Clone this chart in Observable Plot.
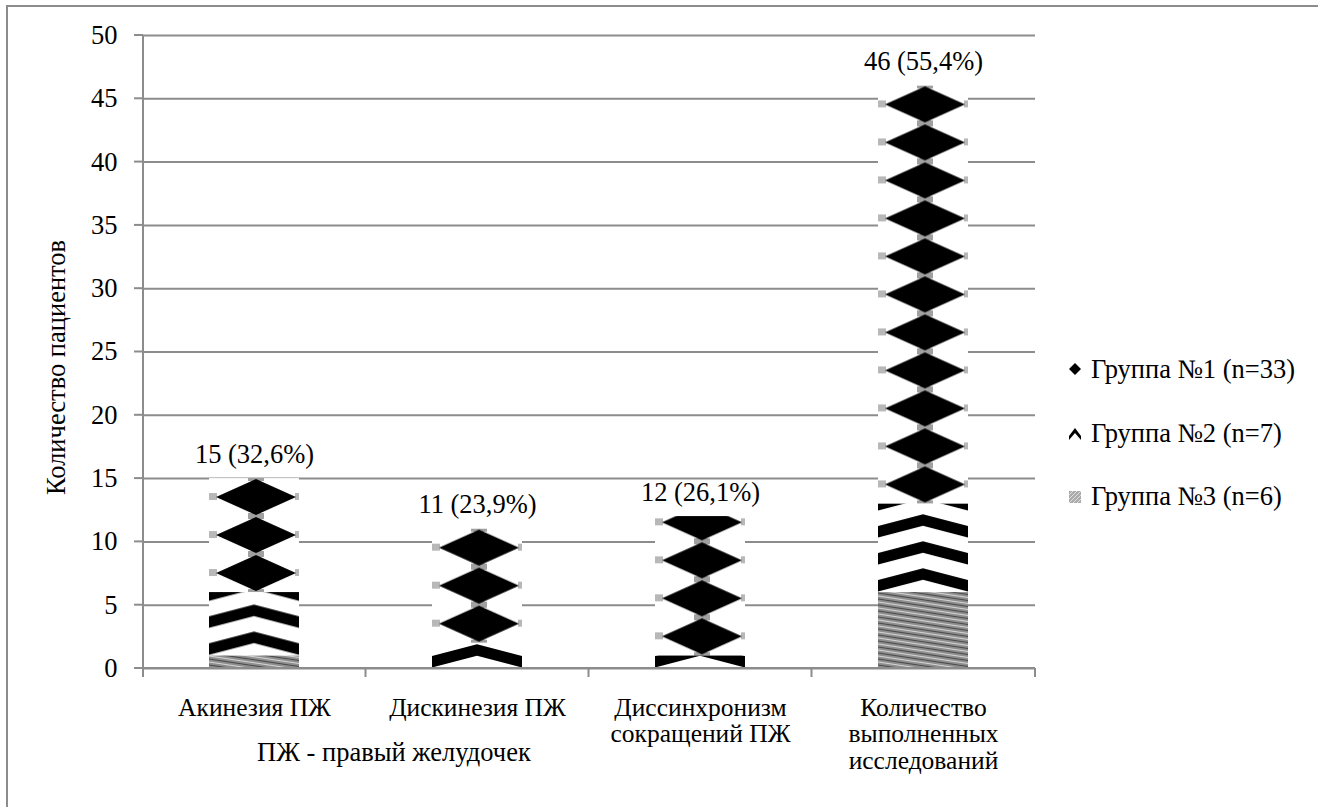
<!DOCTYPE html>
<html>
<head>
<meta charset="utf-8">
<script src="https://cdn.jsdelivr.net/npm/d3@7"></script>
<script src="https://cdn.jsdelivr.net/npm/@observablehq/plot@0.6"></script>
<style>
  html, body { margin: 0; padding: 0; background: #fff; }
  #chart { position: relative; width: 1318px; height: 807px; overflow: hidden; }
  #border { position: absolute; left: 6px; top: 5px; width: 1400px; height: 900px;
            border-left: 2px solid #8c8c8c; border-top: 2px solid #8c8c8c; }
  #chart svg { position: absolute; left: 0; top: 0; }
</style>
</head>
<body>
<div id="chart"><div id="border"></div></div>
<script>
// Categories (x axis) and their multi-line tick labels
const categories = [
  "Акинезия ПЖ",
  "Дискинезия ПЖ",
  "Диссинхронизм сокращений ПЖ",
  "Количество выполненных исследований"
];
const categoryLines = [
  ["Акинезия ПЖ"],
  ["Дискинезия ПЖ"],
  ["Диссинхронизм", "сокращений ПЖ"],
  ["Количество", "выполненных", "исследований"]
];

// Series
const groups = ["Группа №1 (n=33)", "Группа №2 (n=7)", "Группа №3 (n=6)"];
const group1 = [9, 9, 11, 33];
const group2 = [5, 2, 1, 7];
const group3 = [1, 0, 0, 6];

// Totals and their labels above each bar
const totals = [15, 11, 12, 46];
const totalLabels = ["15 (32,6%)", "11 (23,9%)", "12 (26,1%)", "46 (55,4%)"];

// Y axis ticks and texts
const yTicks = [0, 5, 10, 15, 20, 25, 30, 35, 40, 45, 50];
const yTitle = "Количество пациентов";
const xNote = "ПЖ - правый желудочек";

const GRID = "#8c8c8c";
const FONT = "Liberation Serif";
const FS = 26.5;
const FS_X = 25.5;

// Long table: bottom-to-top stacking order is group 3, group 2, group 1
const rows = [];
categories.forEach((c, i) => {
  rows.push({category: c, group: groups[2], value: group3[i]});
  rows.push({category: c, group: groups[1], value: group2[i]});
  rows.push({category: c, group: groups[0], value: group1[i]});
});
const totalRows = categories.map((c, i) => ({category: c, total: totals[i], label: totalLabels[i]}));
const lineOf = new Map(categories.map((c, i) => [c, categoryLines[i].join("\n")]));

// Axis lines, boundary ticks, axis title, note and legend
function decorations(index, scales, values, dims) {
  const {width, height, marginLeft, marginRight, marginTop, marginBottom} = dims;
  const x = scales.x, y = scales.y;
  const x0 = marginLeft, x1 = width - marginRight, yb = height - marginBottom;
  const g = d3.create("svg:g").attr("text-anchor", "start");
  const lines = g.append("g").attr("stroke", GRID).attr("stroke-width", 2);
  // y axis line and ticks
  lines.append("line").attr("x1", x0).attr("x2", x0).attr("y1", y(50)).attr("y2", yb + 9);
  for (const t of yTicks) {
    lines.append("line").attr("x1", x0 - 9).attr("x2", x0).attr("y1", y(t)).attr("y2", y(t));
  }
  // x axis line and category boundary ticks
  lines.append("line").attr("x1", x0).attr("x2", x1).attr("y1", yb).attr("y2", yb);
  const bw = typeof x.bandwidth === "function" ? x.bandwidth() : x.bandwidth;
  const centers = categories.map(c => x(c) + bw / 2);
  const bounds = [x0];
  for (let i = 1; i < centers.length; i++) bounds.push((centers[i - 1] + centers[i]) / 2);
  bounds.push(x1);
  for (const b of bounds) {
    lines.append("line").attr("x1", b).attr("x2", b).attr("y1", yb).attr("y2", yb + 9);
  }
  // y axis title
  g.append("text")
    .attr("transform", `translate(65,${(y(50) + yb) / 2 + 16}) rotate(-90)`)
    .attr("text-anchor", "middle").attr("font-size", FS).attr("fill", "#000")
    .text(yTitle);
  // note under the first two categories
  g.append("text").attr("x", 257).attr("y", 761).attr("text-anchor", "start")
    .attr("font-size", FS).attr("fill", "#000").text(xNote);
  // legend
  const lg = g.append("g").attr("transform", `translate(${x1 + 40},0)`);
  const baselines = [378, 442, 505];
  groups.forEach((name, i) => {
    const row = lg.append("g").attr("transform", `translate(0,${baselines[i]})`);
    if (i === 0) {
      row.append("path").attr("d", "M0,-15 L6,-9 L0,-3 L-6,-9 Z").attr("fill", "#000");
    } else if (i === 1) {
      row.append("path").attr("d", "M-6,-6 L0,-14 L6,-6 L6,-2 L0,-9 L-6,-2 Z").attr("fill", "#000");
    } else {
      row.append("rect").attr("x", -6).attr("y", -14).attr("width", 12).attr("height", 12).attr("fill", "url(#legend3)");
    }
    row.append("text").attr("x", 16).attr("y", 0).attr("text-anchor", "start")
      .attr("font-size", FS).attr("fill", "#000").text(name);
  });
  return g.node();
}

const svg = Plot.plot({
  width: 1318,
  height: 807,
  marginLeft: 143,
  marginRight: 283,
  marginTop: 35,
  marginBottom: 139,
  style: {fontFamily: FONT, fontSize: `${FS}px`, color: "#000", background: "transparent", overflow: "visible"},
  x: {domain: categories, paddingInner: 0.596, paddingOuter: 0.298, label: null},
  y: {domain: [0, 50], label: null},
  color: {type: "ordinal", domain: groups, range: ["url(#g1)", "url(#g2)", "url(#g3)"]},
  marks: [
    Plot.gridY(yTicks, {stroke: GRID, strokeOpacity: 1, strokeWidth: 2}),
    Plot.barY(rows.filter(d => d.value > 0), Plot.stackY({
      x: "category", y: "value", fill: "group", z: "group",
      order: [groups[2], groups[1], groups[0]]
    })),
    Plot.axisY({ticks: yTicks, tickSize: 0, tickPadding: 26, fontSize: FS, label: null, fill: "#000"}),
    Plot.axisX({tickSize: 0, tickPadding: 28, fontSize: FS_X, label: null, fill: "#000",
                lineHeight: 1.05, tickFormat: d => lineOf.get(d)}),
    Plot.text(totalRows, {x: "category", y: "total", text: "label", fontSize: FS, fill: "#000",
                          lineAnchor: "bottom", dy: -16}),
    decorations
  ]
});
svg.setAttribute("font-family", FONT);
svg.querySelectorAll("text").forEach(t => { t.style.fontFamily = FONT; });
document.getElementById("chart").appendChild(svg);

// Fill patterns: one pattern per rect so each tile grid starts at the bar segment's bottom edge
const defs = d3.select(svg).insert("defs", ":first-child");

function diamondTile(p, w) {
  const h = 38, k = w / 90;
  p.attr("width", w).attr("height", h);
  p.append("rect").attr("width", w).attr("height", h).attr("fill", "#fff");
  p.append("rect").attr("x", 0).attr("y", 15).attr("width", 8 * k).attr("height", 7).attr("fill", "#b8b8b8");
  p.append("rect").attr("x", 86 * k).attr("y", 15).attr("width", 4 * k).attr("height", 7).attr("fill", "#b8b8b8");
  p.append("rect").attr("x", 39 * k).attr("y", 0).attr("width", 16 * k).attr("height", 3).attr("fill", "#a0a0a0");
  p.append("rect").attr("x", 39 * k).attr("y", 35).attr("width", 16 * k).attr("height", 3).attr("fill", "#a0a0a0");
  p.append("path").attr("d", `M${7 * k},19 L${47 * k},1 L${87 * k},19 L${47 * k},37 Z`).attr("fill", "#000");
}
function chevronTile(p, w) {
  const h = 27, k = w / 90;
  p.attr("width", w).attr("height", h);
  p.append("rect").attr("width", w).attr("height", h).attr("fill", "#fff");
  p.append("path")
    .attr("d", `M0,${h * 0.56} L${45 * k},${h * 0.12} L${90 * k},${h * 0.56} L${90 * k},${h * 0.98} L${45 * k},${h * 0.55} L0,${h * 0.98} Z`)
    .attr("fill", "#000");
}
function hatchTile(p) {
  p.attr("width", 40).attr("height", 6);
  p.append("rect").attr("width", 40).attr("height", 6).attr("fill", "#8e8e8e");
  p.append("path").attr("d", "M0,0 L40,6 M0,-6 L40,0 M0,6 L40,12").attr("stroke", "#d4d4d4").attr("stroke-width", 1.1);
  p.append("path").attr("d", "M0,3 L40,9 M0,-3 L40,3").attr("stroke", "#4a4a4a").attr("stroke-width", 1.1);
}

const legendPattern = defs.append("pattern").attr("id", "legend3").attr("patternUnits", "userSpaceOnUse");
legendPattern.attr("width", 4).attr("height", 4);
legendPattern.append("rect").attr("width", 4).attr("height", 4).attr("fill", "#aaa");
legendPattern.append("path").attr("d", "M0,4 L4,0").attr("stroke", "#e0e0e0").attr("stroke-width", 1);

let n = 0;
svg.querySelectorAll('rect[fill^="url(#g"]').forEach(rect => {
  const kind = rect.getAttribute("fill").slice(5, 7);
  const rx = +rect.getAttribute("x"), ry = +rect.getAttribute("y");
  const rw = +rect.getAttribute("width"), rh = +rect.getAttribute("height");
  const id = `pat-${kind}-${n++}`;
  const p = defs.append("pattern").attr("id", id).attr("patternUnits", "userSpaceOnUse")
    .attr("x", rx).attr("y", ry + rh);
  if (kind === "g1") diamondTile(p, rw);
  else if (kind === "g2") chevronTile(p, rw);
  else hatchTile(p);
  rect.setAttribute("fill", `url(#${id})`);
});
</script>
</body>
</html>
